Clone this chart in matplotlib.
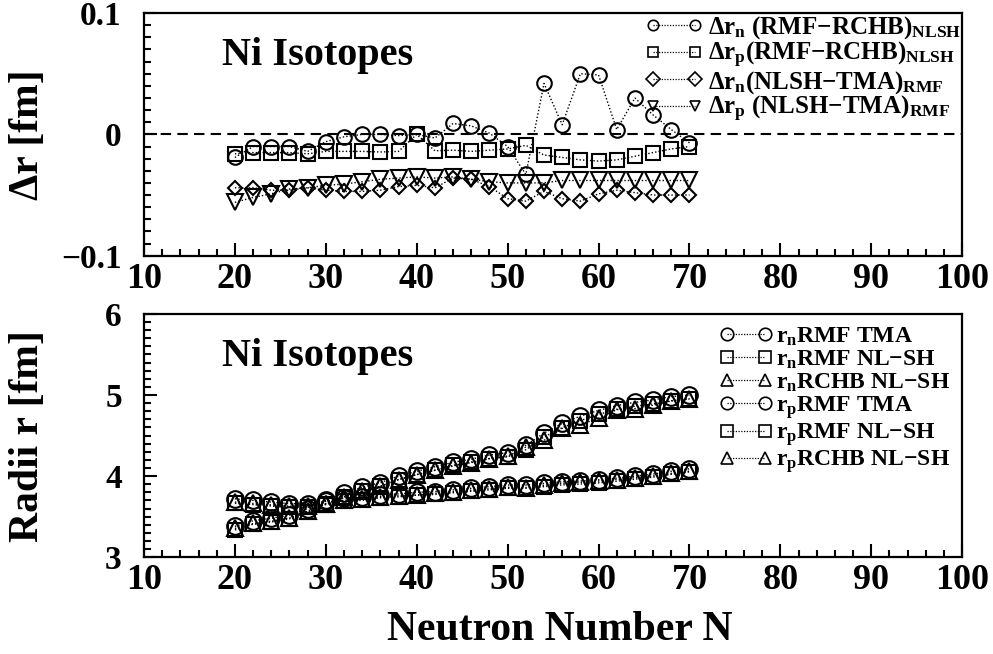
import matplotlib
matplotlib.use('Agg')
import matplotlib.pyplot as plt
from matplotlib.ticker import MultipleLocator, FixedLocator, FixedFormatter
from matplotlib.lines import Line2D

plt.rcParams['font.family'] = ['Liberation Serif', 'DejaVu Serif']
plt.rcParams['font.weight'] = 'bold'
plt.rcParams['mathtext.fontset'] = 'custom'
plt.rcParams['mathtext.rm'] = 'Liberation Serif:bold'
plt.rcParams['mathtext.it'] = 'Liberation Serif:bold'
plt.rcParams['mathtext.bf'] = 'Liberation Serif:bold'

# neutron numbers of the Ni chain
N = [20, 22, 24, 26, 28, 30, 32, 34, 36, 38, 40, 42, 44,
     46, 48, 50, 52, 54, 56, 58, 60, 62, 64, 66, 68, 70]

# radius differences [fm]
drn_rmf_rchb = [-0.019, -0.010, -0.010, -0.010, -0.014, -0.006, -0.002, 0.000, 0.000,
                -0.001, 0.000, -0.003, 0.009, 0.007, 0.001, -0.010, -0.033, 0.042,
                0.008, 0.050, 0.049, 0.004, 0.030, 0.016, 0.004, -0.007]
drp_rmf_rchb = [-0.016, -0.015, -0.015, -0.015, -0.016, -0.014, -0.014, -0.014, -0.0145,
                -0.014, 0.000, -0.0135, -0.013, -0.014, -0.013, -0.012, -0.009, -0.017,
                -0.019, -0.021, -0.022, -0.021, -0.018, -0.015, -0.012, -0.010]
drn_nlsh_tma = [-0.044, -0.044, -0.046, -0.046, -0.044, -0.046, -0.047, -0.047, -0.046,
                -0.043, -0.042, -0.044, -0.036, -0.037, -0.043, -0.053, -0.055, -0.047,
                -0.053, -0.055, -0.049, -0.046, -0.048, -0.050, -0.050, -0.050]
drp_nlsh_tma = [-0.056, -0.052, -0.049, -0.045, -0.044, -0.042, -0.041, -0.039, -0.037,
                -0.036, -0.035, -0.036, -0.035, -0.037, -0.039, -0.040, -0.040, -0.040,
                -0.038, -0.038, -0.038, -0.038, -0.038, -0.038, -0.038, -0.038]

# neutron and proton radii [fm]
rn_rmf_tma = [3.380, 3.450, 3.480, 3.520, 3.600, 3.700, 3.790, 3.860, 3.920, 4.000,
              4.060, 4.115, 4.170, 4.210, 4.260, 4.290, 4.380, 4.530, 4.650, 4.740,
              4.810, 4.870, 4.910, 4.940, 4.980, 5.000]
rn_rmf_nlsh = [3.336, 3.406, 3.434, 3.474, 3.556, 3.654, 3.743, 3.813, 3.874, 3.957,
               4.018, 4.071, 4.134, 4.173, 4.217, 4.237, 4.325, 4.483, 4.597, 4.685,
               4.761, 4.824, 4.862, 4.890, 4.930, 4.950]
rn_rchb_nlsh = [3.355, 3.416, 3.444, 3.484, 3.570, 3.660, 3.745, 3.813, 3.874, 3.958,
                4.018, 4.074, 4.125, 4.166, 4.216, 4.247, 4.358, 4.441, 4.589, 4.635,
                4.712, 4.820, 4.832, 4.874, 4.926, 4.957]
rp_rmf_tma = [3.720, 3.700, 3.680, 3.660, 3.660, 3.690, 3.730, 3.740, 3.770, 3.780,
              3.800, 3.810, 3.830, 3.850, 3.870, 3.890, 3.890, 3.910, 3.930, 3.940,
              3.955, 3.975, 4.000, 4.025, 4.060, 4.090]
rp_rmf_nlsh = [3.664, 3.648, 3.631, 3.615, 3.616, 3.648, 3.689, 3.701, 3.733, 3.744,
               3.765, 3.774, 3.795, 3.813, 3.831, 3.850, 3.850, 3.870, 3.892, 3.902,
               3.917, 3.937, 3.962, 3.987, 4.022, 4.052]
rp_rchb_nlsh = [3.680, 3.663, 3.646, 3.630, 3.632, 3.662, 3.703, 3.715, 3.748, 3.758,
                3.765, 3.788, 3.808, 3.827, 3.844, 3.862, 3.859, 3.887, 3.911, 3.923,
                3.939, 3.958, 3.980, 4.002, 4.034, 4.062]

upper_series = [
    (drn_rmf_rchb, 'o', 10.5, r'$\Delta$r$_{n}$ (RMF$-$RCHB)$_{NLSH}$'),
    (drp_rmf_rchb, 's', 9.5, r'$\Delta$r$_{p}$(RMF$-$RCHB)$_{NLSH}$'),
    (drn_nlsh_tma, 'D', 7.6, r'$\Delta$r$_{n}$(NLSH$-$TMA)$_{RMF}$'),
    (drp_nlsh_tma, 'v', 11.0, r'$\Delta$r$_{p}$ (NLSH$-$TMA)$_{RMF}$'),
]
lower_series = [
    (rn_rmf_tma, 'o', 12.0, r'r$_{n}$RMF TMA'),
    (rn_rmf_nlsh, 's', 10.0, r'r$_{n}$RMF NL$-$SH'),
    (rn_rchb_nlsh, '^', 12.0, r'r$_{n}$RCHB NL$-$SH'),
    (rp_rmf_tma, 'o', 12.0, r'r$_{p}$RMF TMA'),
    (rp_rmf_nlsh, 's', 10.0, r'r$_{p}$RMF NL$-$SH'),
    (rp_rchb_nlsh, '^', 12.0, r'r$_{p}$RCHB NL$-$SH'),
]

fig = plt.figure(figsize=(9.93, 6.54), dpi=100)
ax1 = fig.add_axes([0.145, 0.609, 0.824, 0.371])
ax2 = fig.add_axes([0.145, 0.148, 0.824, 0.372])


def draw(ax, series, legend_ms):
    handles = []
    for vals, mk, ms, lab in series:
        ax.plot(N, vals, marker=mk, ms=ms, mfc='none', mec='black', mew=1.5,
                color='black', lw=1.0, ls=(0, (1, 1.5)))
        handles.append(Line2D([], [], marker=mk, ms=legend_ms, mfc='none', mec='black',
                              mew=1.2, color='black', lw=0.9, ls=(0, (1, 1.2)),
                              label=lab))
    return handles


def style(ax):
    ax.set_xlim(10, 100)
    ax.xaxis.set_major_locator(MultipleLocator(10))
    ax.xaxis.set_minor_locator(MultipleLocator(2))
    for s in ax.spines.values():
        s.set_linewidth(1.6)
    ax.tick_params(which='both', direction='in', top=False, right=False, width=1.5)
    ax.tick_params(which='major', length=9.5)
    ax.tick_params(which='minor', length=5)
    ax.tick_params(axis='x', labelsize=26, pad=5)
    ax.tick_params(axis='y', labelsize=24, pad=16)
    ax.yaxis.set_label_coords(-0.118, 0.5)


h1 = draw(ax1, upper_series, 7.5)
ax1.axhline(0, color='black', lw=1.5, ls=(0, (5, 3)))
style(ax1)
ax1.set_ylim(-0.1, 0.1)
ax1.yaxis.set_major_locator(FixedLocator([-0.1, 0, 0.1]))
ax1.yaxis.set_major_formatter(FixedFormatter(['\u22120.1', '0', '0.1']))
ax1.yaxis.set_minor_locator(MultipleLocator(0.01))
ax1.set_ylabel('\u0394r [fm]', fontsize=30, fontweight='bold')
ax1.text(0.095, 0.827, 'Ni Isotopes', transform=ax1.transAxes, fontsize=29,
         fontweight='bold', va='center', ha='left')
ax1.legend(handles=h1, loc='upper right', frameon=False, numpoints=2, fontsize=18,
           handlelength=2.3, handletextpad=0.2, labelspacing=-0.05,
           borderaxespad=0.05, borderpad=0.0)

h2 = draw(ax2, lower_series, 9)
style(ax2)
ax2.set_ylim(3, 6)
ax2.yaxis.set_major_locator(MultipleLocator(1))
ax2.yaxis.set_minor_locator(MultipleLocator(0.1))
ax2.set_ylabel('Radii r [fm]', fontsize=30, fontweight='bold')
ax2.text(0.095, 0.823, 'Ni Isotopes', transform=ax2.transAxes, fontsize=29,
         fontweight='bold', va='center', ha='left')
ax2.legend(handles=h2, loc='upper right', frameon=False, numpoints=2, fontsize=17,
           handlelength=2.2, handletextpad=0.2, labelspacing=0.02,
           borderaxespad=0.3, borderpad=0.2)

fig.text(0.564, 0.036, 'Neutron Number N', fontsize=30, fontweight='bold',
         ha='center', va='center')

fig.savefig('out.png', dpi=100)
